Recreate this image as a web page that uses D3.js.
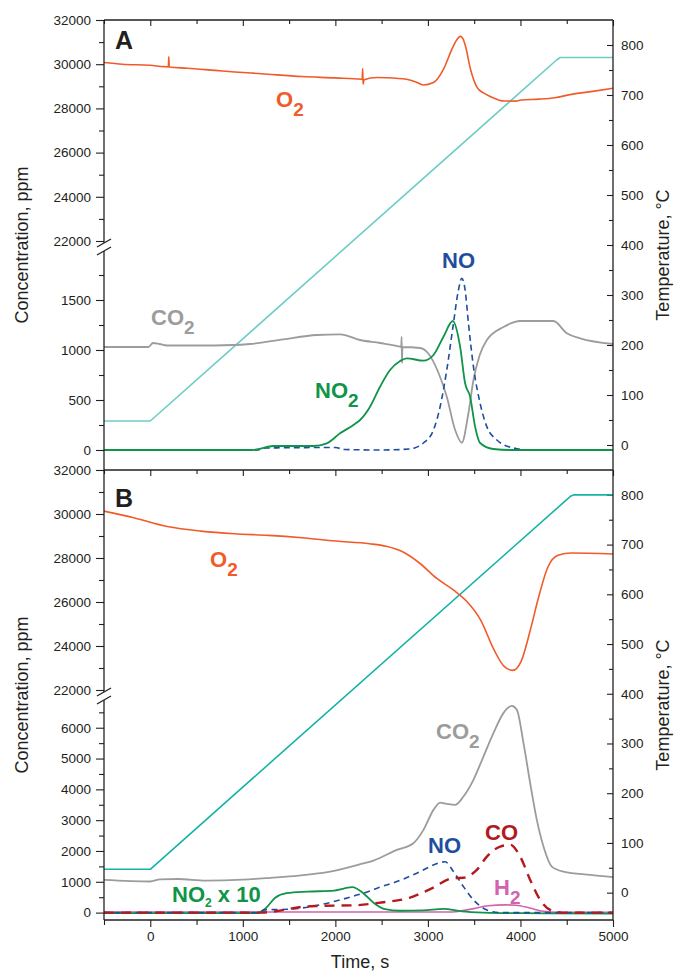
<!DOCTYPE html>
<html>
<head>
<meta charset="utf-8">
<script src="https://cdn.jsdelivr.net/npm/d3@7"></script>
<style>
body{margin:0;background:#fff;}
text{font-family:Arial,"Liberation Sans",Helvetica,sans-serif;}
.tick text{font-size:13.5px;fill:#231f20;}
.tick line{stroke:#231f20;stroke-width:1.1;}
.frame{stroke:#231f20;stroke-width:1.3;fill:none;}
.axTitle{font-size:18px;fill:#231f20;}
.panelName{font-size:25px;font-weight:bold;fill:#231f20;}
.lbl{font-size:22px;font-weight:bold;}
</style>
</head>
<body>
<svg id="chart" width="674" height="973"></svg>
<script>
// ---- tick values
var timeMajor = [0, 1000, 2000, 3000, 4000, 5000];
var timeMinor = [-500, 500, 1500, 2500, 3500, 4500];
var o2Major = [22000, 24000, 26000, 28000, 30000, 32000];
var o2Minor = [23000, 25000, 27000, 29000, 31000];
var lowMajorA = [0, 500, 1000, 1500];
var lowMinorA = [250, 750, 1250, 1750];
var lowMajorB = [0, 1000, 2000, 3000, 4000, 5000, 6000];
var lowMinorB = [500, 1500, 2500, 3500, 4500, 5500, 6500];
var tempMajor = [0, 100, 200, 300, 400, 500, 600, 700, 800];
var tempMinor = [50, 150, 250, 350, 450, 550, 650, 750];

// ---- panel A series [time s, value]
var tempA = [[-500,48],[0,48],[4390,770],[4430,775],[5000,775]];
var o2A = [[-500,30080],[-300,30000],[0,29950],[150,29890],[195,29880],[200,30330],[205,29870],
  [400,29820],[700,29720],[912,29650],[1200,29570],[1640,29440],[2000,29380],[2280,29320],
  [2290,29310],[2295,29800],[2300,29090],[2310,29300],[2450,29400],[2550,29390],[2769,29318],
  [2870,29200],[2950,29060],[3060,29170],[3169,29773],[3260,30682],[3320,31150],[3351,31257],
  [3380,31150],[3405,30832],[3460,29773],[3533,28940],[3600,28700],[3679,28530],[3824,28333],
  [3950,28330],[4006,28378],[4200,28420],[4370,28485],[4552,28636],[4800,28780],[5000,28909]];
var co2A = [[-500,1030],[-20,1030],[30,1070],[100,1060],[180,1045],[500,1045],[897,1050],
  [1077,1060],[1438,1107],[1799,1150],[2051,1157],[2267,1100],[2483,1070],[2700,1033],
  [2712,1030],[2716,1130],[2720,870],[2724,1030],[2916,1020],[3000,970],[3115,770],[3204,533],
  [3294,200],[3366,73],[3438,370],[3492,700],[3560,950],[3637,1100],[3817,1230],[3997,1290],
  [4357,1290],[4501,1167],[4646,1117],[5000,1060]];
var no2A = [[-500,0],[1100,0],[1150,5],[1330,40],[1762,40],[1907,67],[2051,167],[2195,250],
  [2267,300],[2375,433],[2483,633],[2591,800],[2700,890],[2772,917],[2952,893],[3060,950],
  [3168,1133],[3269,1290],[3348,1033],[3402,667],[3456,533],[3510,233],[3564,70],[3705,10],
  [3900,0],[5000,0]];
var noA = [[-500,0],[1150,0],[1250,20],[2000,25],[2100,5],[2500,0],[2800,10],[2952,70],
  [3060,200],[3132,433],[3204,800],[3276,1267],[3330,1600],[3366,1717],[3402,1600],
  [3438,1267],[3492,833],[3564,467],[3637,233],[3745,100],[3925,20],[4100,0],[5000,0]];

// ---- panel B series
var tempB = [[-500,47],[0,47],[4540,797],[4580,800],[5000,800]];
var o2B = [[-500,30130],[-180,29830],[184,29430],[548,29220],[912,29100],[1277,29030],
  [1640,28920],[2004,28770],[2369,28650],[2550,28530],[2732,28270],[2915,27750],[3096,27070],
  [3278,26540],[3424,26010],[3570,25180],[3715,23820],[3824,23070],[3916,22890],[4006,23290],
  [4116,24880],[4188,26090],[4297,27590],[4406,28120],[4552,28230],[5000,28180]];
var co2B = [[-500,1060],[0,1010],[105,1080],[300,1090],[600,1040],[1000,1070],[1300,1130],
  [1600,1200],[1943,1330],[2303,1600],[2411,1690],[2664,2036],[2843,2253],[2952,2685],
  [3060,3334],[3132,3571],[3204,3530],[3294,3497],[3384,3766],[3492,4308],[3600,5065],
  [3708,5825],[3816,6474],[3907,6711],[3961,6581],[4033,5500],[4105,4201],[4177,3010],
  [4249,2143],[4339,1494],[4465,1331],[4754,1224],[5000,1150]];
var noB = [[-500,0],[1150,0],[1240,88],[1513,110],[1828,250],[2025,390],[2222,560],
  [2375,700],[2459,800],[2664,1006],[2880,1279],[3132,1623],[3186,1650],[3276,1331],
  [3384,844],[3492,412],[3600,143],[3700,30],[3800,0],[5000,0]];
var coB = [[-500,0],[1200,0],[1316,30],[1670,195],[1828,217],[2222,240],[2498,330],
  [2800,480],[3024,760],[3276,1117],[3384,1130],[3528,1386],[3637,1818],[3781,2143],
  [3889,2200],[3997,1818],[4105,1062],[4213,412],[4321,88],[4450,0],[5000,0]];
var no2x10B = [[-500,-20],[1158,-20],[1250,150],[1350,480],[1474,630],[1700,680],[1986,714],
  [2100,790],[2183,825],[2301,630],[2419,305],[2537,110],[2700,60],[2950,70],[3168,120],
  [3365,40],[3600,0],[4000,-20],[5000,-30]];
var h2B = [[-500,20],[3250,20],[3300,30],[3492,130],[3650,220],[3838,250],[3950,240],
  [4100,150],[4250,40],[4400,10],[5000,10]];

// ---- colours
var cTempA = '#6dcdc4', cTempB = '#16b2a8', cO2 = '#f15a29', cCO2 = '#9c9c9c',
    cNO2 = '#0f9448', cNO = '#1f4e9e', cCO = '#b3191e', cH2 = '#d462ad';

var svg = d3.select('#chart');
var xL = 104, xR = 613;
var x = d3.scaleLinear().domain([-500, 5000]).range([xL, xR]);
var fmt = d3.format('d');

var panels = [
  {name:'A', top:20, bottom:470, upRange:[241,20], lowDom:[-200,1950], lowRange:[470,255],
   tDom:[-50,850], brk:[243,251], lowMajor:lowMajorA, lowMinor:lowMinorA, titleY:245, tTitleY:255,
   series:[
     {d:tempA, s:'t', c:cTempA, w:1.6, lin:true},
     {d:o2A, s:'up', c:cO2, w:1.6},
     {d:co2A, s:'low', c:cCO2, w:1.8},
     {d:noA, s:'low', c:cNO, w:1.6, dash:'6,4'},
     {d:no2A, s:'low', c:cNO2, w:1.8}
   ]},
  {name:'B', top:470, bottom:920, upRange:[690,470], lowDom:[-240,6900], lowRange:[920,700],
   tDom:[-55,850], brk:[692,700], lowMajor:lowMajorB, lowMinor:lowMinorB, titleY:695, tTitleY:705,
   series:[
     {d:tempB, s:'t', c:cTempB, w:1.6, lin:true},
     {d:o2B, s:'up', c:cO2, w:1.6},
     {d:co2B, s:'low', c:cCO2, w:1.8},
     {d:h2B, s:'low', c:cH2, w:1.6},
     {d:no2x10B, s:'low', c:cNO2, w:1.8},
     {d:noB, s:'low', c:cNO, w:1.6, dash:'6,4.5'},
     {d:coB, s:'low', c:cCO, w:2.4, dash:'10,7'}
   ]}
];

var tickG = function(g){ g.select('.domain').remove(); };

drawPanel = function(p){
  var g = svg.append('g').attr('id', 'panel' + p.name);
  var yUp = d3.scaleLinear().domain([22000, 32000]).range(p.upRange);
  var yLow = d3.scaleLinear().domain(p.lowDom).range(p.lowRange);
  var yT = d3.scaleLinear().domain(p.tDom).range([p.bottom, p.top]);
  var sc = {up:yUp, low:yLow, t:yT};

  // left axis ticks
  g.append('g').attr('transform', 'translate(' + xL + ',0)')
    .call(d3.axisLeft(yUp).tickValues(o2Major).tickFormat(fmt).tickSize(8).tickPadding(5)).call(tickG);
  g.append('g').attr('transform', 'translate(' + xL + ',0)')
    .call(d3.axisLeft(yUp).tickValues(o2Minor).tickSize(5).tickFormat('')).call(tickG);
  g.append('g').attr('transform', 'translate(' + xL + ',0)')
    .call(d3.axisLeft(yLow).tickValues(p.lowMajor).tickFormat(fmt).tickSize(8).tickPadding(5)).call(tickG);
  g.append('g').attr('transform', 'translate(' + xL + ',0)')
    .call(d3.axisLeft(yLow).tickValues(p.lowMinor).tickSize(5).tickFormat('')).call(tickG);

  // right axis (temperature)
  g.append('g').attr('transform', 'translate(' + xR + ',0)')
    .call(d3.axisRight(yT).tickValues(tempMajor).tickFormat(fmt).tickSize(-6).tickPadding(8)).call(tickG);
  g.append('g').attr('transform', 'translate(' + xR + ',0)')
    .call(d3.axisRight(yT).tickValues(tempMinor).tickSize(-4).tickFormat('')).call(tickG);

  // top edge ticks pointing in
  g.append('g').attr('transform', 'translate(0,' + p.top + ')')
    .call(d3.axisTop(x).tickValues(timeMajor).tickSize(-6).tickFormat('')).call(tickG);
  g.append('g').attr('transform', 'translate(0,' + p.top + ')')
    .call(d3.axisTop(x).tickValues(timeMinor).tickSize(-4).tickFormat('')).call(tickG);

  // data lines
  var lg = g.append('g').attr('class', 'lines');
  p.series.forEach(function(s){
    var line = d3.line()
      .x(function(d){ return x(d[0]); })
      .y(function(d){ return sc[s.s](d[1]); })
      .curve(s.lin ? d3.curveLinear : d3.curveMonotoneX);
    lg.append('path')
      .datum(s.d)
      .attr('d', line)
      .attr('fill', 'none')
      .attr('stroke', s.c)
      .attr('stroke-width', s.w)
      .attr('stroke-linejoin', 'round')
      .attr('stroke-dasharray', s.dash || null);
  });

  // frame
  g.append('line').attr('class', 'frame')
    .attr('x1', xL).attr('x2', xR).attr('y1', p.top).attr('y2', p.top);
  g.append('line').attr('class', 'frame')
    .attr('x1', xR).attr('x2', xR).attr('y1', p.top).attr('y2', p.bottom);
  g.append('line').attr('class', 'frame')
    .attr('x1', xL).attr('x2', xL).attr('y1', p.top).attr('y2', p.brk[0]);
  g.append('line').attr('class', 'frame')
    .attr('x1', xL).attr('x2', xL).attr('y1', p.brk[1]).attr('y2', p.bottom);
  // break marks
  p.brk.forEach(function(b){
    g.append('line').attr('class', 'frame').attr('stroke-width', 1.1)
      .attr('x1', xL - 7).attr('y1', b + 4).attr('x2', xL + 7).attr('y2', b - 4);
  });

  // titles
  g.append('text').attr('class', 'axTitle')
    .attr('transform', 'translate(28,' + p.titleY + ') rotate(-90)')
    .attr('text-anchor', 'middle')
    .text('Concentration, ppm');
  g.append('text').attr('class', 'axTitle')
    .attr('transform', 'translate(669,' + p.tTitleY + ') rotate(-90)')
    .attr('text-anchor', 'middle')
    .text('Temperature, °C');
  g.append('text').attr('class', 'panelName')
    .attr('x', 115).attr('y', p.top + (p.name == 'A' ? 29 : 37))
    .text(p.name);
};

panels.forEach(drawPanel);

// bottom time axis
svg.append('g').attr('transform', 'translate(0,920)')
  .call(d3.axisBottom(x).tickValues(timeMajor).tickFormat(fmt).tickSize(7).tickPadding(4)).call(tickG);
svg.append('g').attr('transform', 'translate(0,920)')
  .call(d3.axisBottom(x).tickValues(timeMinor).tickSize(5).tickFormat('')).call(tickG);
svg.append('line').attr('class', 'frame')
  .attr('x1', xL).attr('x2', xR).attr('y1', 920).attr('y2', 920);
svg.append('text').attr('class', 'axTitle')
  .attr('x', 360).attr('y', 968).attr('text-anchor', 'middle')
  .text('Time, s');

// curve labels: [text, isSub]
addLabel = function(px, py, parts, color, subSize, subDy){
  var t = svg.append('text').attr('class', 'lbl')
    .attr('x', px).attr('y', py).attr('fill', color);
  var shift = 0;
  parts.forEach(function(pt){
    var ts = t.append('tspan').text(pt[0]);
    if (pt[1]){
      ts.attr('font-size', (subSize || 19) + 'px').attr('dy', (subDy || 9) - shift);
      shift = subDy || 9;
    } else if (shift){
      ts.attr('dy', -shift);
      shift = 0;
    }
  });
};

addLabel(276, 107, [['O',0],['2',1]], cO2);
addLabel(151, 325, [['CO',0],['2',1]], cCO2);
addLabel(315, 398, [['NO',0],['2',1]], cNO2);
addLabel(442, 268, [['NO',0]], cNO);

addLabel(210, 567, [['O',0],['2',1]], cO2);
addLabel(436, 739, [['CO',0],['2',1]], cCO2);
addLabel(428, 853, [['NO',0]], cNO);
addLabel(485, 840, [['CO',0]], cCO);
addLabel(494, 895, [['H',0],['2',1]], cH2);
addLabel(172, 902, [['NO',0],['2',1],[' x 10',0]], cNO2, 12, 5);
</script>
</body>
</html>
